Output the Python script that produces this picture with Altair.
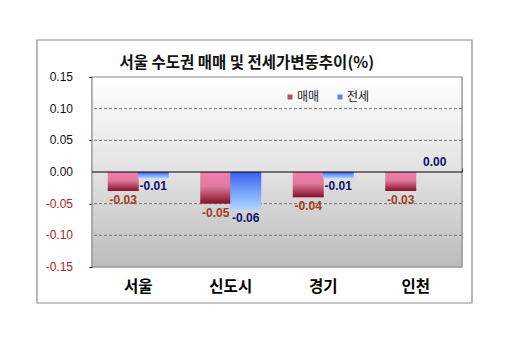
import altair as alt
import pandas as pd

regions = ["서울", "신도시", "경기", "인천"]
sale = [-0.03, -0.05, -0.04, -0.03]
jeonse = [-0.01, -0.06, -0.01, 0.00]
series = ["매매", "전세"]
y_ticks = [-0.15, -0.10, -0.05, 0.00, 0.05, 0.10, 0.15]
grid_vals = [-0.10, -0.05, 0.05, 0.10]

rows = []
for r, a, b in zip(regions, sale, jeonse):
    rows.append({"region": r, "series": "매매", "value": a})
    rows.append({"region": r, "series": "전세", "value": b})
df = pd.DataFrame(rows)

W, H = 370, 190
KFONT = "Noto Sans CJK KR"
FMT = "replace(format(datum.value, '.2f'), '\u2212', '-')"

yscale = alt.Scale(domain=[-0.15, 0.15], nice=False)
xscale = alt.Scale(paddingInner=0, paddingOuter=0)

y_axis = alt.Axis(title=None, values=y_ticks, labels=False, grid=False,
                  domainColor="black", domainWidth=1.2,
                  tickColor="black", tickSize=3)

x_main = alt.X("region:N", sort=regions, scale=xscale,
               axis=alt.Axis(title=None, domain=False, ticks=False, labelFont=KFONT,
                             labelFontSize=15.5, labelFontWeight="bold", labelColor="black",
                             labelPadding=12, labelAngle=0, orient="bottom"))
x_none = alt.X("region:N", sort=regions, scale=xscale, axis=None)
xoff = alt.XOffset("series:N", sort=series,
                   scale=alt.Scale(domain=series, paddingInner=0, paddingOuter=0.54))
y_enc = alt.Y("value:Q", scale=yscale, axis=y_axis)

def grad(stops):
    return {"gradient": "linear", "x1": 0, "y1": 0, "x2": 0, "y2": 1,
            "stops": [{"offset": o, "color": c} for o, c in stops]}

base = alt.Chart(df)
one = alt.Chart(pd.DataFrame({"a": [0]}))

frame = one.mark_rect(
    fill="white", fillOpacity=0, stroke="#8c8c8c", strokeWidth=1.2
).encode(x=alt.value(-55), x2=alt.value(380), y=alt.value(-37), y2=alt.value(226))

bg = one.mark_rect(
    fill=grad([(0, "#ffffff"), (0.5, "#e2e2e2"), (1, "#bcbcbc")]),
    stroke="#8a8a8a", strokeWidth=1.2
).encode(x=alt.value(0), x2=alt.value(W), y=alt.value(0), y2=alt.value(H))

grid = alt.Chart(pd.DataFrame({"value": grid_vals})).mark_rule(
    color="#777777", strokeDash=[3, 2], strokeWidth=1
).encode(y=y_enc)

ylabels = alt.Chart(pd.DataFrame({"value": y_ticks})).transform_calculate(
    lab=FMT).mark_text(align="right", baseline="middle", font="Liberation Sans",
                       fontSize=12).encode(
    x=alt.value(-19), y=y_enc, text="lab:N",
    color=alt.condition("datum.value < 0", alt.value("#a02828"), alt.value("#111111")))

bars_sale = base.transform_filter("datum.series == '매매'").mark_bar(
    fill=grad([(0, "#f27fae"), (0.45, "#e07a9e"), (1, "#861028")]), size=31
).encode(x=x_main, xOffset=xoff, y=y_enc, y2=alt.datum(0))

bars_j = base.transform_filter("datum.series == '전세'").mark_bar(
    fill=grad([(0, "#3a5ff0"), (0.45, "#6f9bf8"), (1, "#aed6ff")]), size=31
).encode(x=x_none, xOffset=xoff, y=y_enc, y2=alt.datum(0))

zero_line = one.mark_rule(color="black", strokeWidth=1.2).encode(y=alt.datum(0))

zero_axis = base.mark_bar(opacity=0).encode(
    x=alt.X("region:N", sort=regions, scale=xscale,
            axis=alt.Axis(title=None, orient="top", offset=-(H / 2), labels=False,
                          domain=False, tickColor="black", tickWidth=1.2,
                          tickSize=4, tickBand="extent")),
    y=y_enc,
)

LFONT = "Liberation Sans"
lab_neg_sale = base.transform_filter("datum.series == '매매' && datum.value < 0").transform_calculate(
    lab=FMT).mark_text(baseline="top", dy=4, font=LFONT, fontSize=12,
                       fontWeight="bold", color="#a0401a").encode(
    x=x_none, xOffset=xoff, y=y_enc, text="lab:N")
lab_neg_j = base.transform_filter("datum.series == '전세' && datum.value < 0").transform_calculate(
    lab=FMT).mark_text(baseline="top", dy=3, font=LFONT, fontSize=12,
                       fontWeight="bold", color="#10106e").encode(
    x=x_none, xOffset=xoff, y=y_enc, text="lab:N")
lab_pos_j = base.transform_filter("datum.series == '전세' && datum.value >= 0").transform_calculate(
    lab=FMT).mark_text(baseline="bottom", dy=-3, dx=4, font=LFONT, fontSize=12,
                       fontWeight="bold", color="#10106e").encode(
    x=x_none, xOffset=xoff, y=y_enc, text="lab:N")

legend_layer = base.mark_square(opacity=0).encode(
    x=x_none, y=y_enc,
    color=alt.Color("series:N", sort=series,
                    scale=alt.Scale(domain=series, range=["#b0506e", "#5f87e8"]),
                    legend=alt.Legend(title=None, orient="none", legendX=192, legendY=14,
                                      direction="horizontal", symbolType="square",
                                      symbolSize=25, symbolOpacity=1, symbolStrokeWidth=0,
                                      labelFont=KFONT, labelFontSize=12, labelColor="#222222",
                                      labelOffset=1, columnPadding=14)),
)

chart = alt.layer(
    frame, bg, grid, ylabels, bars_sale, bars_j, zero_line, zero_axis,
    lab_neg_sale, lab_neg_j, lab_pos_j, legend_layer
).resolve_axis(x="independent").resolve_scale(color="independent").properties(
    width=W, height=H,
    title=alt.TitleParams("서울 수도권 매매 및 전세가변동추이(%)", font=KFONT, fontSize=15.5,
                          fontWeight="bold", color="#111111", anchor="start", dx=83, offset=-32),
    autosize=alt.AutoSizeParams(type="none"),
    padding={"left": 84, "top": 69, "right": 40, "bottom": 80},
).configure_view(stroke=None).configure(background="white")

chart.save("out.html", embed_options={"renderer": "svg", "actions": False})
